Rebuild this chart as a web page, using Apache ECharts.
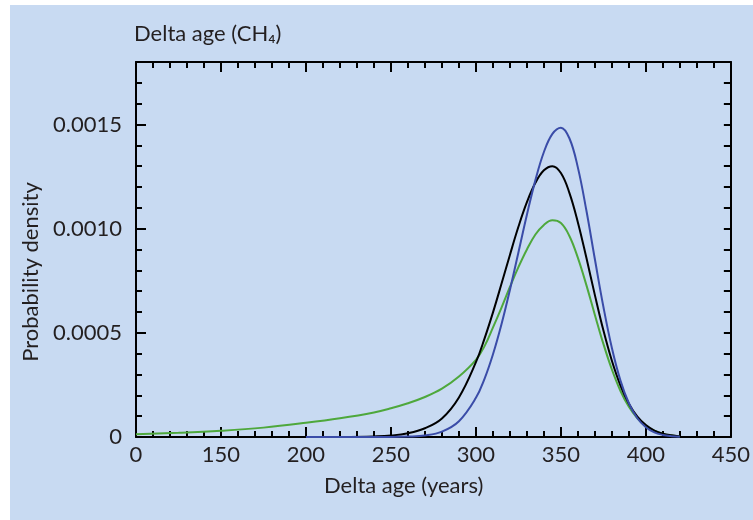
<!DOCTYPE html>
<html>
<head>
<meta charset="utf-8">
<script src="https://cdn.jsdelivr.net/npm/echarts@6/dist/echarts.min.js"></script>
<style>
  html, body { margin: 0; padding: 0; background: #fff; }
  #main { width: 753px; height: 520px; }
</style>
</head>
<body>
<div id="main"></div>
<script>
// data
var agesBlue = [200, 220, 240, 250, 260, 270, 280, 290, 300, 305, 310, 315, 320, 325, 330, 335, 340, 345, 350, 355, 360, 365, 370, 375, 380, 385, 390, 395, 400, 405, 410, 415, 420];
var densBlue = [0, 0, 0, 0, 0.000002, 0.0000075, 0.000026, 0.000076, 0.000188, 0.000278, 0.000396, 0.00054, 0.000706, 0.000886, 0.001067, 0.001233, 0.001368, 0.001455, 0.001485, 0.001434, 0.001293, 0.001087, 0.000853, 0.000625, 0.000427, 0.000272, 0.000162, 0.00009, 0.000047, 0.000022, 0.00001, 0.000004, 0.000001];

var agesBlack = [220, 240, 250, 260, 270, 280, 290, 300, 305, 310, 315, 320, 325, 330, 335, 340, 345, 350, 355, 360, 365, 370, 375, 380, 385, 390, 395, 400, 405, 410, 415, 420];
var densBlack = [0, 0.000003, 0.000007, 0.000018, 0.000042, 0.000089, 0.00019, 0.000359, 0.000471, 0.000597, 0.000734, 0.000874, 0.001009, 0.001127, 0.00122, 0.00128, 0.0013, 0.001267, 0.001172, 0.00103, 0.00086, 0.000681, 0.000512, 0.000366, 0.000248, 0.00016, 0.000098, 0.000057, 0.000031, 0.000016, 0.000008, 0.000003];

var agesGreen = [100, 125, 150, 175, 200, 220, 240, 250, 260, 270, 280, 290, 300, 305, 310, 315, 320, 325, 330, 335, 340, 345, 350, 355, 360, 365, 370, 375, 380, 385, 390, 395, 400, 405, 410, 415, 420];
var densGreen = [0.000013, 0.00002, 0.00003, 0.000045, 0.000068, 0.00009, 0.000118, 0.000138, 0.000162, 0.000192, 0.000232, 0.00029, 0.00037, 0.000435, 0.000525, 0.00062, 0.00072, 0.000815, 0.0009, 0.000972, 0.001018, 0.00104, 0.001027, 0.000965, 0.00086, 0.000729, 0.000586, 0.000447, 0.000324, 0.000222, 0.000145, 0.00009, 0.000053, 0.00003, 0.000015, 0.000007, 0.000003];

var xTicks = [100, 450, 50];        // min, max, step
var yTicks = [0, 0.0018, 0.0005];   // min, max, step (labelled)

function pairs(xs, ys) {
  return xs.map(function (x, i) { return [x, ys[i]]; });
}

var myChart = echarts.init(document.getElementById('main'));
var font = 'Lato';
var ink = '#231f20';
var frame = { onZero: false, lineStyle: { color: '#000', width: 2 } };

option = {
  animation: false,
  grid: { left: 136, top: 62, right: 19, bottom: 83 },
  graphic: [
    { type: 'rect', left: 10, top: 5, z: -10, shape: { width: 743, height: 515 }, style: { fill: '#c8daf2' } },
    { type: 'text', left: 134, top: 23, style: { text: 'Delta age (CH\u2084)', font: '22px ' + font, fill: ink } },
    { type: 'text', left: 324, top: 475, style: { text: 'Delta age (years)', font: '22px ' + font, fill: ink } },
    { type: 'text', x: 20, y: 272, rotation: Math.PI / 2, style: { text: 'Probability density', font: '22px ' + font, fill: ink, align: 'center', verticalAlign: 'top' } }
  ],
  xAxis: [
    {
      type: 'value', position: 'bottom',
      min: xTicks[0], max: xTicks[1], interval: xTicks[2],
      axisLine: frame,
      axisTick: { inside: true, length: 10, lineStyle: { color: '#000', width: 2 } },
      minorTick: { show: true, splitNumber: 5, length: 6, lineStyle: { color: '#000', width: 2 } },
      splitLine: { show: false },
      axisLabel: {
        margin: 7, color: ink, fontFamily: font, fontSize: 22,
        formatter: function (v) { return v === 100 ? '0' : String(v); }
      }
    },
    {
      type: 'value', position: 'top',
      min: xTicks[0], max: xTicks[1], interval: xTicks[2],
      axisLine: frame,
      axisTick: { inside: true, length: 10, lineStyle: { color: '#000', width: 2 } },
      minorTick: { show: true, splitNumber: 5, length: 6, lineStyle: { color: '#000', width: 2 } },
      splitLine: { show: false },
      axisLabel: { show: false }
    }
  ],
  yAxis: [
    {
      type: 'value', position: 'left',
      min: yTicks[0], max: yTicks[1], interval: yTicks[2],
      axisLine: { show: true, onZero: false, lineStyle: { color: '#000', width: 2 } },
      axisTick: { show: true, inside: true, length: 10, lineStyle: { color: '#000', width: 2 } },
      splitLine: { show: false },
      axisLabel: {
        margin: 14, color: ink, fontFamily: font, fontSize: 22, showMaxLabel: false,
        formatter: function (v) { return v === 0 ? '0' : v.toFixed(4); }
      }
    },
    {
      type: 'value', position: 'left',
      min: yTicks[0], max: yTicks[1], interval: 0.0001,
      axisLine: { show: false, onZero: false },
      axisTick: { show: true, inside: true, length: 6, lineStyle: { color: '#000', width: 2 } },
      splitLine: { show: false },
      axisLabel: { show: false }
    },
    {
      type: 'value', position: 'right',
      min: yTicks[0], max: yTicks[1], interval: 0.0001,
      axisLine: { show: true, onZero: false, lineStyle: { color: '#000', width: 2 } },
      axisTick: { show: true, inside: true, length: 7, lineStyle: { color: '#000', width: 2 } },
      splitLine: { show: false },
      axisLabel: { show: false }
    }
  ],
  series: [
    {
      name: 'green', type: 'line', smooth: 0.4, showSymbol: false,
      xAxisIndex: 0, yAxisIndex: 0,
      lineStyle: { color: '#4ea83c', width: 2 },
      data: pairs(agesGreen, densGreen)
    },
    {
      name: 'black', type: 'line', smooth: 0.4, showSymbol: false,
      xAxisIndex: 0, yAxisIndex: 0,
      lineStyle: { color: '#000000', width: 2 },
      data: pairs(agesBlack, densBlack)
    },
    {
      name: 'blue', type: 'line', smooth: 0.4, showSymbol: false,
      xAxisIndex: 0, yAxisIndex: 0,
      lineStyle: { color: '#3a4ca8', width: 2 },
      data: pairs(agesBlue, densBlue)
    }
  ]
};
myChart.setOption(option);
window.addEventListener('resize', function () {
  myChart.resize();
});
</script>
</body>
</html>
